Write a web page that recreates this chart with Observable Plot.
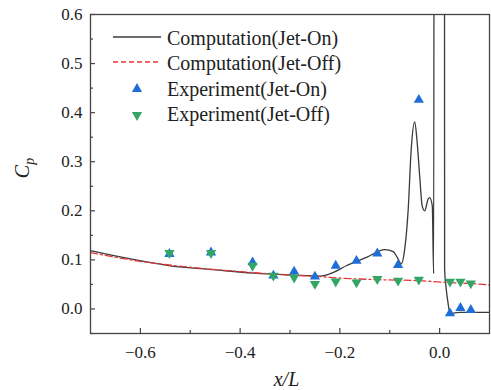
<!DOCTYPE html>
<html><head><meta charset="utf-8">
<script src="https://cdn.jsdelivr.net/npm/d3@7"></script>
<script src="https://cdn.jsdelivr.net/npm/@observablehq/plot@0.6"></script>
<style>
body{margin:0;background:#fff}
svg text, svg tspan { font-family: "Liberation Serif", "DejaVu Serif", "Noto Serif", serif !important; }
</style>
</head><body><div id="chart"></div>
<script>
// ---- data ----
const compOnX  = [-0.7, -0.62, -0.54, -0.453, -0.373, -0.293, -0.24, -0.213, -0.187, -0.147, -0.11, -0.093, -0.085, -0.077, -0.07, -0.063, -0.057, -0.05, -0.045, -0.04, -0.035, -0.03, -0.023, -0.02, -0.0147, -0.012, -0.0105, 0.0095, 0.01, 0.0133, 0.0167, 0.021, 0.03, 0.04, 0.066, 0.1];
const compOnCp = [0.119, 0.102, 0.088, 0.080, 0.073, 0.069, 0.067, 0.0746, 0.088, 0.105, 0.121, 0.117, 0.105, 0.092, 0.122, 0.203, 0.325, 0.381, 0.339, 0.271, 0.21, 0.2, 0.224, 0.227, 0.21, 0.072, 1.5, 1.5, 0.08, 0.04, 0.0136, -0.01, -0.008, -0.007, -0.007, -0.007];
const compOffX  = [-0.7, -0.6, -0.5, -0.4, -0.3, -0.24, -0.2, -0.12, -0.04, 0.013, 0.06, 0.1];
const compOffCp = [0.115, 0.097, 0.085, 0.076, 0.069, 0.066, 0.063, 0.0596, 0.0576, 0.054, 0.052, 0.049];
const expX     = [-0.5417, -0.4583, -0.375, -0.3333, -0.2917, -0.25, -0.2083, -0.1667, -0.125, -0.0833, -0.0417, 0.0208, 0.0417, 0.0625];
const expOnCp  = [0.112, 0.115, 0.095, 0.068, 0.076, 0.066, 0.088, 0.098, 0.113, 0.0895, 0.426, -0.009, 0.002, -0.002];
const expOffCp = [0.114, 0.114, 0.088, 0.068, 0.064, 0.051, 0.056, 0.054, 0.061, 0.0576, 0.0596, 0.0556, 0.0556, 0.052];
const xTicks = [-0.6, -0.4, -0.2, 0.0];
const xMinor = [-0.5, -0.3, -0.1];
const yTicks = [0.0, 0.1, 0.2, 0.3, 0.4, 0.5, 0.6];
const yMinor = [-0.05, 0.05, 0.15, 0.25, 0.35, 0.45, 0.55];
const seriesNames = ["Computation(Jet-On)", "Computation(Jet-Off)", "Experiment(Jet-On)", "Experiment(Jet-Off)"];

const compOn = compOnX.map((x, i) => ({x, y: compOnCp[i]}));
const compOff = compOffX.map((x, i) => ({x, y: compOffCp[i]}));
const expOn = expX.map((x, i) => ({x, y: expOnCp[i]}));
const expOff = expX.map((x, i) => ({x, y: expOffCp[i]}));

const fmt = d => d.toFixed(1).replace("-", "\u2212");
const W = 491, H = 390, mL = 90, mR = 2, mT = 14, mB = 57;
const pw = W - mL - mR, ph = H - mT - mB;
const BLUE = "#1f6ed8", GREEN = "#33a666", RED = "#e0383a", DARK = "#3a3a3a";

const svgEl = Plot.plot({
  width: W, height: H,
  marginLeft: mL, marginRight: mR, marginTop: mT, marginBottom: mB,
  x: {domain: [-0.7, 0.1], ticks: xTicks, tickSize: 0, tickPadding: 12, tickFormat: fmt, label: null},
  y: {domain: [-0.05, 0.6], ticks: yTicks, tickSize: 0, tickPadding: 8, tickFormat: fmt, label: null},
  marks: [
    Plot.line(compOn, {x: "x", y: "y", stroke: DARK, strokeWidth: 1.3, curve: "monotone-x", clip: true}),
    Plot.line(compOff, {x: "x", y: "y", stroke: RED, strokeWidth: 1.3, strokeDasharray: "7,3,2,3", curve: "monotone-x", clip: true}),
    Plot.dot(expOn, {x: "x", y: "y", symbol: "triangle", r: 3.8, fill: BLUE, stroke: "none"}),
    Plot.dot(expOff, {x: "x", y: "y", symbol: "triangle", rotate: 180, r: 3.8, fill: GREEN, stroke: "none"}),
    Plot.tickX(xTicks, {x: d => d, insetTop: ph - 5, stroke: "#444", strokeWidth: 1.2}),
    Plot.tickX(xMinor, {x: d => d, insetTop: ph - 3, stroke: "#444", strokeWidth: 1.2}),
    Plot.tickY(yTicks, {y: d => d, insetRight: pw - 5, stroke: "#444", strokeWidth: 1.2}),
    Plot.tickY(yMinor, {y: d => d, insetRight: pw - 3, stroke: "#444", strokeWidth: 1.2}),
    Plot.frame({stroke: "#444", strokeWidth: 1.3})
  ]
});
document.getElementById("chart").appendChild(svgEl);

const svg = d3.select(svgEl);
svg.style("background", "#fff");
svg.selectAll("text").style("font-size", "17px", "important").style("fill", "#222");

// ---- legend and axis titles ----
const lg = svg.append("g");
const rowBase = [45, 70, 96, 121];
const rowMid = [37, 62, 88, 114];
lg.append("line").attr("x1", 113).attr("x2", 161).attr("y1", rowMid[0]).attr("y2", rowMid[0]).attr("stroke", DARK).attr("stroke-width", 1.3);
lg.append("line").attr("x1", 113).attr("x2", 161).attr("y1", rowMid[1]).attr("y2", rowMid[1]).attr("stroke", RED).attr("stroke-width", 1.3).attr("stroke-dasharray", "5,3");
lg.append("path").attr("d", d3.symbol(d3.symbolTriangle, 45)()).attr("transform", `translate(137,${rowMid[2]+1})`).attr("fill", BLUE);
lg.append("path").attr("d", d3.symbol(d3.symbolTriangle, 45)()).attr("transform", `translate(137,${rowMid[3]+1}) rotate(180)`).attr("fill", GREEN);
seriesNames.forEach((t, i) => lg.append("text").attr("x", 167).attr("y", rowBase[i])
  .attr("text-anchor", "start")
  .style("font-size", "20px", "important").style("fill", "#222")
  .text(t));

svg.append("text").attr("x", mL + pw / 2 - 3).attr("y", 386).attr("text-anchor", "middle")
  .style("font-size", "20px", "important")
  .style("font-style", "italic").style("fill", "#222").text("x/L");
const yl = svg.append("text").attr("transform", "translate(29,168) rotate(-90)").attr("text-anchor", "middle")
  .style("font-size", "20px", "important")
  .style("font-style", "italic").style("fill", "#222");
yl.append("tspan").text("C");
yl.append("tspan").style("font-size", "14px").attr("dy", 5).text("p");
</script></body></html>
